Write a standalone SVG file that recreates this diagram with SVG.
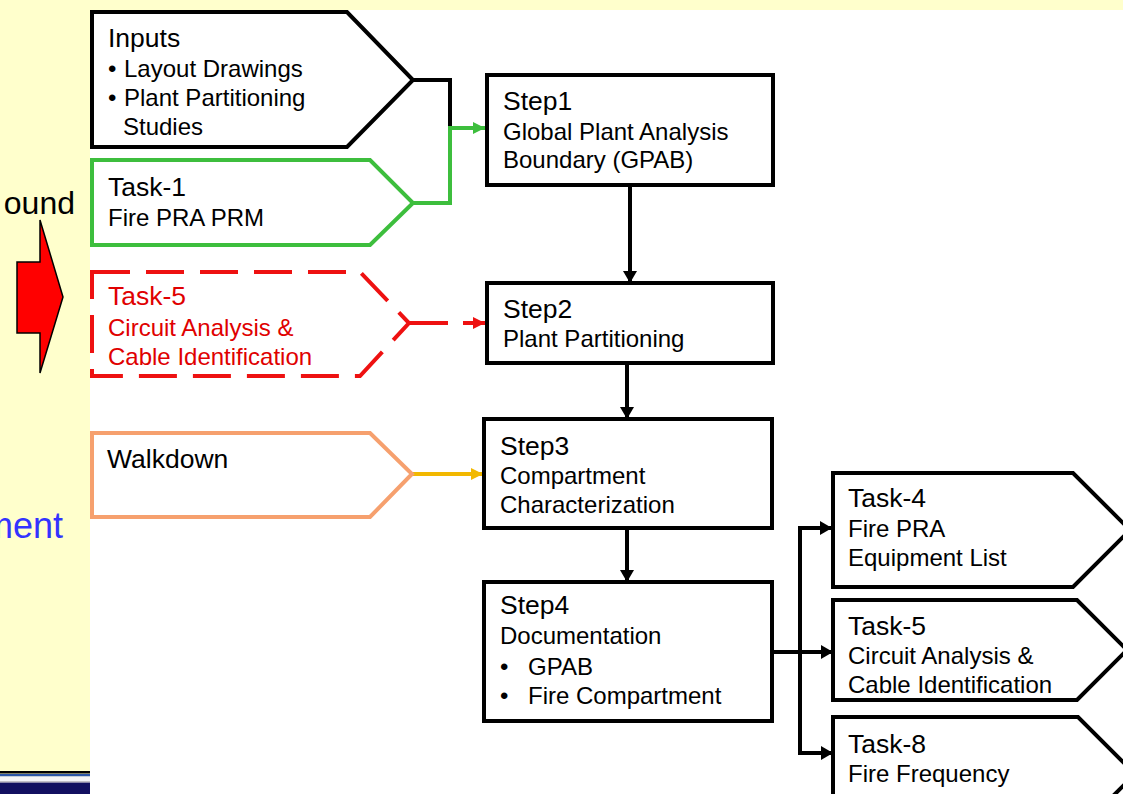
<svg xmlns="http://www.w3.org/2000/svg" width="1123" height="794" viewBox="0 0 1123 794">
  <style>
    text { font-family: "Liberation Sans", Arial, sans-serif; fill: #000; }
    .title { font-size: 26.5px; }
    .body { font-size: 24px; }
    .red { fill: #E00000; }
    .box { fill: #fff; stroke: #000; stroke-width: 4; }
    .pent { fill: #fff; stroke-width: 4; stroke-linejoin: miter; }
    .wire { fill: none; stroke-width: 4; }
  </style>
  <defs>
    <marker id="ahBlack" markerUnits="userSpaceOnUse" markerWidth="14" markerHeight="14" refX="12" refY="7" orient="auto">
      <path d="M0,0 L12,7 L0,14 Z" fill="#000"/>
    </marker>
    <marker id="ahGreen" markerUnits="userSpaceOnUse" markerWidth="14" markerHeight="14" refX="12" refY="7" orient="auto">
      <path d="M0,1 L12,7 L0,13 Z" fill="#3DBE3D"/>
    </marker>
    <marker id="ahRed" markerUnits="userSpaceOnUse" markerWidth="14" markerHeight="14" refX="12" refY="7" orient="auto">
      <path d="M0,1 L12,7 L0,13 Z" fill="#EE1111"/>
    </marker>
    <marker id="ahGold" markerUnits="userSpaceOnUse" markerWidth="14" markerHeight="14" refX="12" refY="7" orient="auto">
      <path d="M0,1 L12,7 L0,13 Z" fill="#F2B800"/>
    </marker>
  </defs>

  <!-- slide background and white drawing panel -->
  <rect x="0" y="0" width="1123" height="794" fill="#FFFFCC"/>
  <rect x="90" y="10" width="1033" height="784" fill="#FFFFFF"/>

  <!-- footer stripes on the left strip -->
  <rect x="0" y="771" width="90" height="2.5" fill="#000"/>
  <rect x="0" y="774" width="90" height="2.5" fill="#2A55A8"/>
  <rect x="0" y="776.5" width="90" height="5" fill="#F4F4F8"/>
  <rect x="0" y="781.5" width="90" height="1.5" fill="#8A86A8"/>
  <rect x="0" y="783" width="90" height="11" fill="#121060"/>

  <!-- left strip: partial text and block arrow -->
  <text x="75" y="214" text-anchor="end" style="font-size:32px">ound</text>
  <text x="63" y="538" text-anchor="end" style="font-size:36px; fill:#3333FF">ment</text>
  <polygon points="17,262 40,262 40,220 63,297 40,373 40,333 17,333" fill="#FF0000" stroke="#000" stroke-width="1.5"/>

  <!-- connectors -->
  <g id="connectors">
    <path class="wire" d="M413,80 H450 V128" stroke="#000"/>
    <path class="wire" d="M413,203 H450 V128 H485" stroke="#3DBE3D" marker-end="url(#ahGreen)"/>
    <path class="wire" d="M409,323 H485" stroke="#EE1111" stroke-dasharray="39 15" marker-end="url(#ahRed)"/>
    <path class="wire" d="M412,474 H483" stroke="#F2B800" marker-end="url(#ahGold)"/>
    <path class="wire" d="M630,185 V283" stroke="#000" marker-end="url(#ahBlack)"/>
    <path class="wire" d="M627,363 V419" stroke="#000" marker-end="url(#ahBlack)"/>
    <path class="wire" d="M627,528 V582" stroke="#000" marker-end="url(#ahBlack)"/>
    <path class="wire" d="M772,652 H800" stroke="#000"/>
    <path class="wire" d="M800,526 V755" stroke="#000"/>
    <path class="wire" d="M798,528 H832" stroke="#000" marker-end="url(#ahBlack)"/>
    <path class="wire" d="M800,652 H833" stroke="#000" marker-end="url(#ahBlack)"/>
    <path class="wire" d="M798,753 H833" stroke="#000" marker-end="url(#ahBlack)"/>
  </g>

  <!-- input pentagons -->
  <g id="inputs">
    <path class="pent" d="M92,12 H347 L413,80 L347,147 H92 Z" stroke="#000"/>
    <text class="title" x="108" y="47">Inputs</text>
    <text class="body" x="108" y="77">•</text>
    <text class="body" x="124" y="77">Layout Drawings</text>
    <text class="body" x="108" y="106">•</text>
    <text class="body" x="124" y="106">Plant Partitioning</text>
    <text class="body" x="123" y="135">Studies</text>
  </g>

  <g id="task1">
    <path class="pent" d="M92,160 H370 L413,203 L370,245 H92 Z" stroke="#3DBE3D"/>
    <text class="title" x="108" y="196">Task-1</text>
    <text class="body" x="108" y="226">Fire PRA PRM</text>
  </g>

  <g id="task5-input">
    <path class="pent" d="M92,272 H360 L409,323 L360,376 H92 Z" stroke="#EE1111" stroke-dasharray="38 16"/>
    <text class="title red" x="108" y="305">Task-5</text>
    <text class="body red" x="108" y="336">Circuit Analysis &amp;</text>
    <text class="body red" x="108" y="365">Cable Identification</text>
  </g>

  <g id="walkdown">
    <path class="pent" d="M92,433 H370 L412,474 L370,517 H92 Z" stroke="#F6A06E"/>
    <text class="title" x="107" y="468">Walkdown</text>
  </g>

  <!-- process steps -->
  <g id="step1">
    <rect class="box" x="487" y="75" width="286" height="110"/>
    <text class="title" x="503" y="110">Step1</text>
    <text class="body" x="503" y="140">Global Plant Analysis</text>
    <text class="body" x="503" y="168">Boundary (GPAB)</text>
  </g>

  <g id="step2">
    <rect class="box" x="487" y="283" width="286" height="80"/>
    <text class="title" x="503" y="318">Step2</text>
    <text class="body" x="503" y="347">Plant Partitioning</text>
  </g>

  <g id="step3">
    <rect class="box" x="484" y="419" width="288" height="109"/>
    <text class="title" x="500" y="455">Step3</text>
    <text class="body" x="500" y="484">Compartment</text>
    <text class="body" x="500" y="513">Characterization</text>
  </g>

  <g id="step4">
    <rect class="box" x="484" y="582" width="288" height="139"/>
    <text class="title" x="500" y="614">Step4</text>
    <text class="body" x="500" y="644">Documentation</text>
    <text class="body" x="500" y="675">•</text>
    <text class="body" x="528" y="675">GPAB</text>
    <text class="body" x="500" y="704">•</text>
    <text class="body" x="528" y="704">Fire Compartment</text>
  </g>

  <!-- downstream tasks -->
  <g id="task4">
    <path class="pent" d="M833,473 H1073 L1130,530 L1073,587 H833 Z" stroke="#000"/>
    <text class="title" x="848" y="507">Task-4</text>
    <text class="body" x="848" y="537">Fire PRA</text>
    <text class="body" x="848" y="566">Equipment List</text>
  </g>

  <g id="task5-output">
    <path class="pent" d="M833,600 H1077 L1127,650 L1077,700 H833 Z" stroke="#000"/>
    <text class="title" x="848" y="635">Task-5</text>
    <text class="body" x="848" y="664">Circuit Analysis &amp;</text>
    <text class="body" x="848" y="693">Cable Identification</text>
  </g>

  <g id="task8">
    <path class="pent" d="M833,717 H1078 L1135,774 L1078,831 H833 Z" stroke="#000"/>
    <text class="title" x="848" y="753">Task-8</text>
    <text class="body" x="848" y="782">Fire Frequency</text>
  </g>
</svg>
